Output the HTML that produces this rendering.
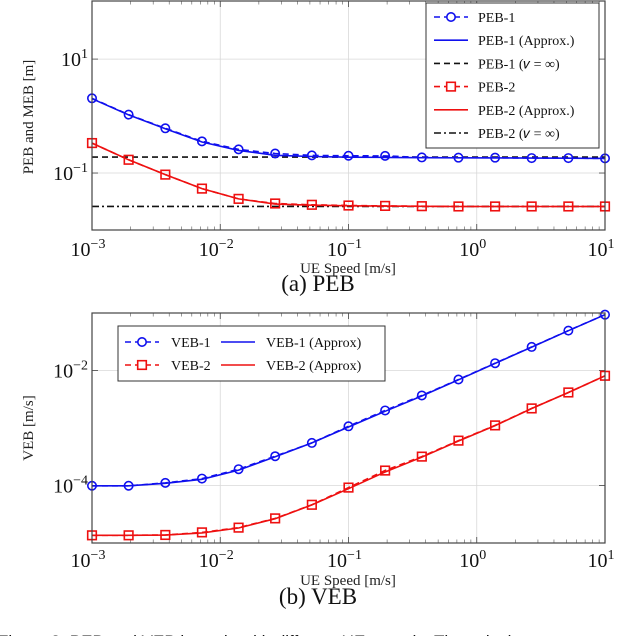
<!DOCTYPE html>
<html><head><meta charset="utf-8"><style>
body{margin:0;background:#fff;width:640px;height:636px;overflow:hidden}
svg{display:block;font-family:"Liberation Serif",serif}
</style></head><body>
<svg id="c" width="640" height="636" viewBox="0 0 640 636"></svg>
<script>
const xVals=[0.001,0.00193,0.00373,0.00720,0.0139,0.0268,0.0518,0.1,0.193,0.373,0.720,1.39,2.68,5.18,10];
const peb1=[2.05,1.06,0.61,0.36,0.26,0.22,0.204,0.201,0.2,0.188,0.186,0.186,0.183,0.183,0.181];
const peb1Approx=[2.02,1.05,0.60,0.35,0.25,0.205,0.195,0.19,0.188,0.186,0.185,0.184,0.183,0.182,0.181];
const peb1Inf=0.191;
const peb2=[0.336,0.171,0.0938,0.0533,0.0352,0.0292,0.0277,0.0269,0.0265,0.0262,0.0259,0.0259,0.0259,0.0259,0.0259];
const peb2Approx=[0.336,0.171,0.0938,0.0533,0.0352,0.0285,0.0272,0.0266,0.0263,0.0261,0.0259,0.0259,0.0259,0.0259,0.0259];
const peb2Inf=0.0259;
const veb1=[9.9e-5,9.9e-5,1.11e-4,1.32e-4,1.92e-4,3.23e-4,5.5e-4,1.07e-3,2.02e-3,3.68e-3,6.98e-3,1.34e-2,2.57e-2,4.94e-2,9.35e-2];
const veb1Approx=[9.9e-5,9.9e-5,1.09e-4,1.28e-4,1.85e-4,3.15e-4,5.5e-4,1.04e-3,1.95e-3,3.6e-3,6.9e-3,1.33e-2,2.55e-2,4.92e-2,9.35e-2];
const veb2=[1.36e-5,1.36e-5,1.38e-5,1.53e-5,1.85e-5,2.68e-5,4.62e-5,9.2e-5,1.82e-4,3.18e-4,6.03e-4,1.11e-3,2.19e-3,4.15e-3,8.1e-3];
const veb2Approx=[1.36e-5,1.36e-5,1.37e-5,1.5e-5,1.82e-5,2.65e-5,4.6e-5,8.8e-5,1.72e-4,3.1e-4,5.95e-4,1.1e-3,2.18e-3,4.15e-3,8.1e-3];
const xTickExp=[-3,-2,-1,0,1];
const pebTickExp=[1,-1];
const vebTickExp=[-2,-4];

const NS="http://www.w3.org/2000/svg";
const svg=document.getElementById('c');
function mk(tag,attrs,parent,text){const e=document.createElementNS(NS,tag);for(const k in attrs)e.setAttribute(k,attrs[k]);if(text!==undefined)e.textContent=text;(parent||svg).appendChild(e);return e;}
const X0=92,X1=605;
function xs(v){return X0+(Math.log10(v)+3)/4*(X1-X0);}
function mkY(top,bot,lmin,lmax){return v=>bot-(Math.log10(v)-lmin)/(lmax-lmin)*(bot-top);}

function panel(name,top,bot,lmin,lmax,yTicks,series,ylabel,ylabelY,tickY,xlabY,cap,capY){
  const ys=mkY(top,bot,lmin,lmax);
  const g=mk('g',{},svg);
  
  
  xTickExp.forEach(e=>{const x=xs(Math.pow(10,e));const l=mk('line',{x1:x,x2:x,y1:top,y2:bot,stroke:'#d8d8d8','stroke-width':0.8},g);});
  yTicks.forEach(e=>{const y=ys(Math.pow(10,e));const l=mk('line',{x1:X0,x2:X1,y1:y,y2:y,stroke:'#d8d8d8','stroke-width':0.8},g);});
  for(let d=-3;d<1;d++)for(let m=2;m<10;m++){const x=xs(m*Math.pow(10,d));mk('line',{x1:x,x2:x,y1:bot,y2:bot-3.5,stroke:'#555','stroke-width':0.6},g);mk('line',{x1:x,x2:x,y1:top,y2:top+3.5,stroke:'#555','stroke-width':0.6},g);}
  xTickExp.forEach(e=>{const x=xs(Math.pow(10,e));mk('line',{x1:x,x2:x,y1:bot,y2:bot-6,stroke:'#444','stroke-width':0.8},g);mk('line',{x1:x,x2:x,y1:top,y2:top+6,stroke:'#444','stroke-width':0.8},g);
    const t=mk('text',{x:x-4,y:tickY,'font-size':20,'text-anchor':'middle',fill:'#111'},g);
    
    mk('tspan',{},t,'10');mk('tspan',{dy:-8,'font-size':14},t,e<0?'\u2212'+(-e):String(e));});
  yTicks.forEach(e=>{const y=ys(Math.pow(10,e));mk('line',{x1:X0,x2:X0+6,y1:y,y2:y,stroke:'#444','stroke-width':0.8},g);mk('line',{x1:X1,x2:X1-6,y1:y,y2:y,stroke:'#444','stroke-width':0.8},g);
    const t=mk('text',{x:X0-4,y:y+7,'font-size':20,'text-anchor':'end',fill:'#111'},g);
    
    mk('tspan',{},t,'10');mk('tspan',{dy:-8,'font-size':14},t,e<0?'\u2212'+(-e):String(e));});
  series.forEach(s=>{
    let d;
    if(s.h!==undefined){const y=ys(s.h);d='M'+X0+','+y+'L'+X1+','+y;}
    else d=s.v.map((v,i)=>(i?'L':'M')+xs(xVals[i]).toFixed(1)+','+ys(v).toFixed(1)).join('');
    const p=mk('path',{d:d,fill:'none',stroke:s.c,'stroke-width':s.w||1.6},g);
    if(s.dash)p.setAttribute('stroke-dasharray',s.dash);
    
    if(s.m){s.v.forEach((v,i)=>{const x=xs(xVals[i]),y=ys(v);let e;
      if(s.m==='o')e=mk('circle',{cx:x,cy:y,r:4.2,fill:'none',stroke:s.c,'stroke-width':1.6},g);
      else e=mk('rect',{x:x-4.3,y:y-4.3,width:8.6,height:8.6,fill:'none',stroke:s.c,'stroke-width':1.6},g);
      });}
  });
  const f=mk('rect',{x:X0,y:top,width:X1-X0,height:bot-top,fill:'none',stroke:'#444','stroke-width':1.2},g);
  
  const yl=mk('text',{x:0,y:0,'font-size':15,'text-anchor':'middle',fill:'#222',transform:'translate(33,'+ylabelY+') rotate(-90)'},g,ylabel);
  
  const xl=mk('text',{x:348,y:xlabY,'font-size':15,'text-anchor':'middle',fill:'#222'},g,'UE Speed [m/s]');
  
  const cp=mk('text',{x:318,y:capY,'font-size':23,'text-anchor':'middle',fill:'#111'},g,cap);
  
  return g;
}
const B='#1010ee',R='#ee1010';
panel('peb',1,230,-2,2.02,pebTickExp,[
 {h:peb1Inf,c:'#111',dash:'6,4',n:'peb1-inf-line'},
 {h:peb2Inf,c:'#111',dash:'7,3,2,3',n:'peb2-inf-line'},
 {v:peb1Approx,c:B,n:'peb1-approx-line'},
 {v:peb1,c:B,dash:'6,4',m:'o',n:'peb1-line'},
 {v:peb2Approx,c:R,n:'peb2-approx-line'},
 {v:peb2,c:R,dash:'6,4',m:'s',n:'peb2-line'}
],'PEB and MEB [m]',117,256,273,'(a) PEB',291);
panel('veb',313,543,-5,-1,vebTickExp,[
 {v:veb1Approx,c:B,n:'veb1-approx-line'},
 {v:veb1,c:B,dash:'6,4',m:'o',n:'veb1-line'},
 {v:veb2Approx,c:R,n:'veb2-approx-line'},
 {v:veb2,c:R,dash:'6,4',m:'s',n:'veb2-line'}
],'VEB [m/s]',428,567,585,'(b) VEB',604);

function legendSample(g,x,y,c,dash,m){
  const l=mk('line',{x1:x,x2:x+34,y1:y,y2:y,stroke:c,'stroke-width':1.6},g);
  if(dash)l.setAttribute('stroke-dasharray',dash);
  if(m==='o')mk('circle',{cx:x+17,cy:y,r:4.2,fill:'#fff',stroke:c,'stroke-width':1.6},g);
  if(m==='s')mk('rect',{x:x+12.7,y:y-4.3,width:8.6,height:8.6,fill:'#fff',stroke:c,'stroke-width':1.6},g);
}
const lg1=mk('g',{},svg);


mk('rect',{x:426,y:3,width:173,height:145,fill:'#fff',stroke:'#333','stroke-width':1},lg1);
[['PEB-1',B,'6,4','o'],['PEB-1 (Approx.)',B,null,null],['PEB-1 (\u{1D463} = \u221E)','#111','6,4',null],['PEB-2',R,'6,4','s'],['PEB-2 (Approx.)',R,null,null],['PEB-2 (\u{1D463} = \u221E)','#111','7,3,2,3',null]].forEach((e,i)=>{
  const y=17+i*23.2;
  legendSample(lg1,434,y,e[1],e[2],e[3]);
  const t=mk('text',{x:478,y:y+5,'font-size':14,fill:'#111'},lg1,e[0]);
  
});
const lg2=mk('g',{},svg);


mk('rect',{x:118,y:326,width:267,height:55,fill:'#fff',stroke:'#333','stroke-width':1},lg2);
[['VEB-1',B,'6,4','o',125,171,342],['VEB-1 (Approx)',B,null,null,221,266,342],['VEB-2',R,'6,4','s',125,171,365],['VEB-2 (Approx)',R,null,null,221,266,365]].forEach(e=>{
  legendSample(lg2,e[4],e[6],e[1],e[2],e[3]);
  const t=mk('text',{x:e[5],y:e[6]+5,'font-size':14,fill:'#111'},lg2,e[0]);
  
});
const fc=mk('text',{x:-2,y:647,'font-size':17,fill:'#111','font-family':'Liberation Sans, sans-serif'},svg,'Figure 3:  PEB and VEB bounds with different UE speeds. The velocity');


</script>
</body></html>
